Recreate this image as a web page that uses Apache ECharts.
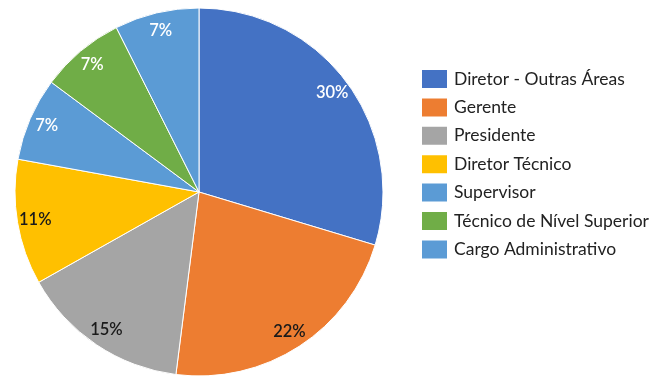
<!DOCTYPE html>
<html>
<head>
<meta charset="utf-8">
<script src="https://cdn.jsdelivr.net/npm/echarts@6/dist/echarts.min.js"></script>
<style>
html,body{margin:0;padding:0;background:#fff;}
#chart{width:656px;height:376px;}
</style>
</head>
<body>
<div id="chart"></div>
<script>
var categories = ['Diretor - Outras Áreas','Gerente','Presidente','Diretor Técnico','Supervisor','Técnico de Nível Superior','Cargo Administrativo'];
var values = [29.6, 22.3, 14.8, 11.0, 7.3, 7.4, 7.4];

var sliceColors = ['#4472C4','#ED7D31','#A5A5A5','#FFC000','#5B9BD5','#70AD47','#5B9BD5'];
var labelColors = ['#ffffff','#1a1a1a','#1a1a1a','#1a1a1a','#ffffff','#ffffff','#ffffff'];

var mainData = categories.map(function(c,i){
  return {name:c, value:values[i], itemStyle:{color:sliceColors[i]}};
});
var labelData = categories.map(function(c,i){
  return {name:c, value:values[i], itemStyle:{color:'rgba(0,0,0,0)'}, label:{color:labelColors[i]}};
});

var chart = echarts.init(document.getElementById('chart'), null, {renderer:'canvas'});
chart.setOption({
  animation:false,
  backgroundColor:'#ffffff',
  legend:{
    orient:'vertical',
    left:420,
    top:68,
    padding:0,
    itemWidth:27,
    itemHeight:20,
    itemGap:6.4,
    icon:'rect',
    data:categories,
    textStyle:{fontFamily:'Lato',fontSize:17.5,lineHeight:20,color:'#222',padding:[0,0,0,1]},
    selectedMode:false
  },
  series:[
    {
      type:'pie',
      center:[199,192],
      radius:[0,184],
      startAngle:90,
      clockwise:true,
      data:mainData,
      itemStyle:{borderColor:'#ffffff',borderWidth:1},
      label:{show:false},
      labelLine:{show:false},
      emphasis:{disabled:true},
      silent:true
    },
    {
      type:'pie',
      center:[199,192],
      radius:[142,184],
      startAngle:90,
      clockwise:true,
      data:labelData,
      label:{
        show:true,
        position:'inside',
        fontFamily:'Lato',
        fontSize:16.5,
        fontWeight:600,
        formatter:function(p){return Math.round(p.percent)+'%';}
      },
      labelLine:{show:false},
      emphasis:{disabled:true},
      silent:true
    }
  ]
});
</script>
</body>
</html>
